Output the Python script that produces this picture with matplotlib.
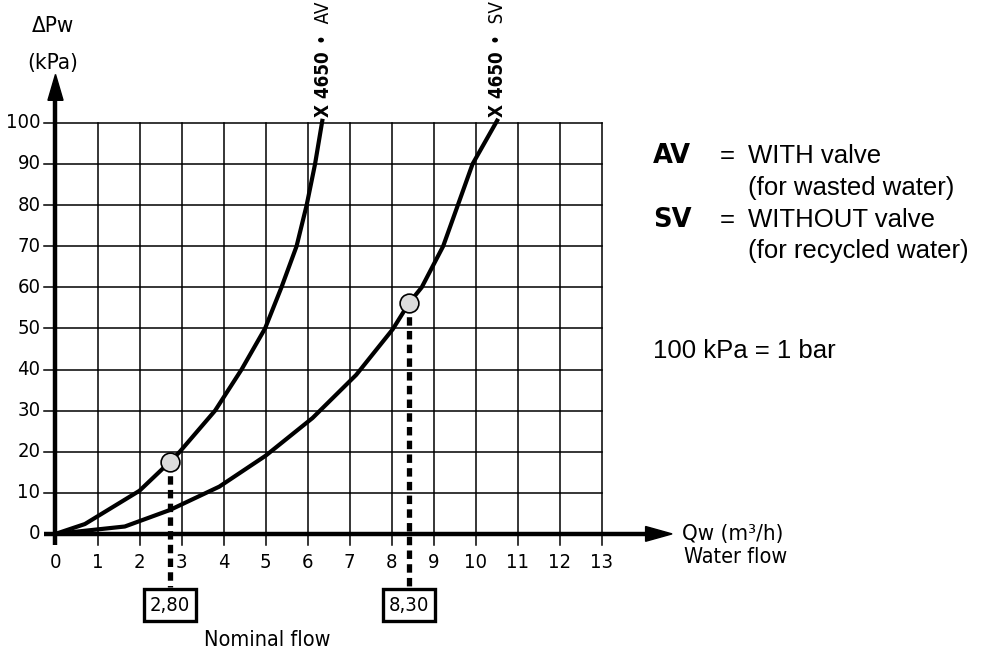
import matplotlib
matplotlib.use("Agg")
import matplotlib.pyplot as plt
from matplotlib import font_manager
from matplotlib.font_manager import FontProperties

# condensed face if one is installed, otherwise plain Liberation Sans
def find_condensed(weight):
    for fam in ['Liberation Sans Narrow', 'DejaVu Sans Condensed', 'DejaVu Sans']:
        try:
            path = font_manager.findfont(FontProperties(family=fam, stretch='condensed', weight=weight),
                                         fallback_to_default=False)
        except Exception:
            continue
        if 'Narrow' in path or 'Condensed' in path:
            return path
    return None

COND = find_condensed('normal')
COND_BOLD = find_condensed('bold')
SANS = ['Liberation Sans', 'DejaVu Sans']


def nfont(size, bold=False):
    path = COND_BOLD if bold else COND
    if path:
        return FontProperties(fname=path, size=size)
    return FontProperties(family=SANS, size=size, weight='bold' if bold else 'normal')


# data
x_ticks = list(range(0, 14))
y_ticks = list(range(0, 101, 10))

av_q = [0, 0.7, 2.0, 2.72, 2.96, 3.8, 4.43, 4.99, 5.38, 5.74, 5.98, 6.18, 6.36]
av_p = [0, 2.4, 10.5, 17.5, 20, 30, 40, 50, 60, 70, 80, 90, 101]

sv_q = [0, 1.65, 2.72, 3.9, 5.0, 6.12, 7.16, 8.03, 8.42, 8.72, 9.23, 9.58, 9.93, 10.54]
sv_p = [0, 1.8, 5.8, 11.5, 19, 28.2, 38.7, 49.8, 56.2, 60, 70, 80, 90, 101]

nominal_q = [2.72, 8.42]
nominal_p = [17.5, 56.2]
nominal_labels = ['2,80', '8,30']

fig = plt.figure(figsize=(9.82, 6.62), dpi=100)
ax = fig.add_axes([0, 0, 1, 1])
# 1 m3/h = 42 px, 1 kPa = 4.11 px, origin at pixel (55.5, 533.9)
ax.set_xlim(-55.5 / 42, (982 - 55.5) / 42)
ax.set_ylim(-(662 - 533.9) / 4.11, 533.9 / 4.11)
ax.axis('off')

# grid + tick marks
for q in x_ticks[1:]:
    ax.plot([q, q], [-2.7, 100], color='black', lw=1.1, zorder=1)
for q in x_ticks:
    ax.text(q, -4.6, str(q), ha='center', va='top', fontproperties=nfont(14.5))
for p in y_ticks[1:]:
    ax.plot([-0.27, 13], [p, p], color='black', lw=1.1, zorder=1)
for p in y_ticks:
    ax.text(-0.36, p, str(p), ha='right', va='center', fontproperties=nfont(14.5))

# axes with arrows
ax.plot([-0.27, 14.1], [0, 0], color='black', lw=3.2, zorder=3, solid_capstyle='butt')
ax.plot([0, 0], [-2.7, 106], color='black', lw=3.2, zorder=3, solid_capstyle='butt')
ax.fill([14.05, 14.05, 14.68], [1.8, -1.8, 0], color='black', zorder=3)
ax.fill([-0.18, 0.18, 0], [105.5, 105.5, 111.8], color='black', zorder=3)

# curves
ax.plot(av_q, av_p, color='black', lw=3, zorder=4, solid_capstyle='butt')
ax.plot(sv_q, sv_p, color='black', lw=3, zorder=4, solid_capstyle='butt')

# nominal flow markers, dashed drop lines and boxes
for q, p, lab in zip(nominal_q, nominal_p, nominal_labels):
    ax.plot([q, q], [p, -13], color='black', lw=3.8, ls=(0, (1.6, 1.0)), zorder=5)
    ax.plot(q, p, 'o', ms=13.5, mfc='#dcdcdc', mec='black', mew=1.2, zorder=6)
    ax.text(q, -17.3, lab, ha='center', va='center', fontproperties=nfont(14.5), zorder=6,
            bbox=dict(boxstyle='square,pad=0.3', fc='white', ec='black', lw=2.4))

# curve names
for q, name in zip([6.37, 10.53], ['AV', 'SV']):
    ax.text(q, 101.5, 'X 4650', rotation=90, rotation_mode='anchor', ha='left', va='center',
            fontproperties=nfont(13.5, bold=True))
    ax.text(q, 119.2, '•  ' + name, rotation=90, rotation_mode='anchor', ha='left', va='center',
            fontproperties=nfont(13.5))

# axis titles
ax.text(-0.06, 123.6, 'ΔPw', ha='center', va='center', fontproperties=nfont(16))
ax.text(-0.06, 114.6, '(kPa)', ha='center', va='center', fontproperties=nfont(16))
ax.text((682 - 55.5) / 42, 0, 'Qw (m³/h)', ha='left', va='center', fontproperties=nfont(16))
ax.text((684 - 55.5) / 42, -5.6, 'Water flow', ha='left', va='center', fontproperties=nfont(15.5))
ax.text(5.05, -25.8, 'Nominal flow', ha='center', va='center', fontproperties=nfont(15.5))

# legend text
lx = (653 - 55.5) / 42
eq = (727 - 55.5) / 42
tx = (748 - 55.5) / 42
rows = [(92.0, 'AV', 'WITH valve'), (84.1, '', '(for wasted water)'),
        (76.3, 'SV', 'WITHOUT valve'), (68.8, '', '(for recycled water)')]
for p, key, txt in rows:
    if key:
        ax.text(lx, p, key, ha='left', va='center', fontsize=18.5, fontweight='bold',
                family=['DejaVu Sans'])
        ax.text(eq, p, '=', ha='center', va='center', fontsize=18.5, family=SANS)
    ax.text(tx, p, txt, ha='left', va='center', fontsize=18.5, family=SANS)
ax.text(lx, 44.6, '100 kPa = 1 bar', ha='left', va='center', fontsize=18.5, family=SANS)

fig.savefig('out.png', dpi=100, facecolor='white')
